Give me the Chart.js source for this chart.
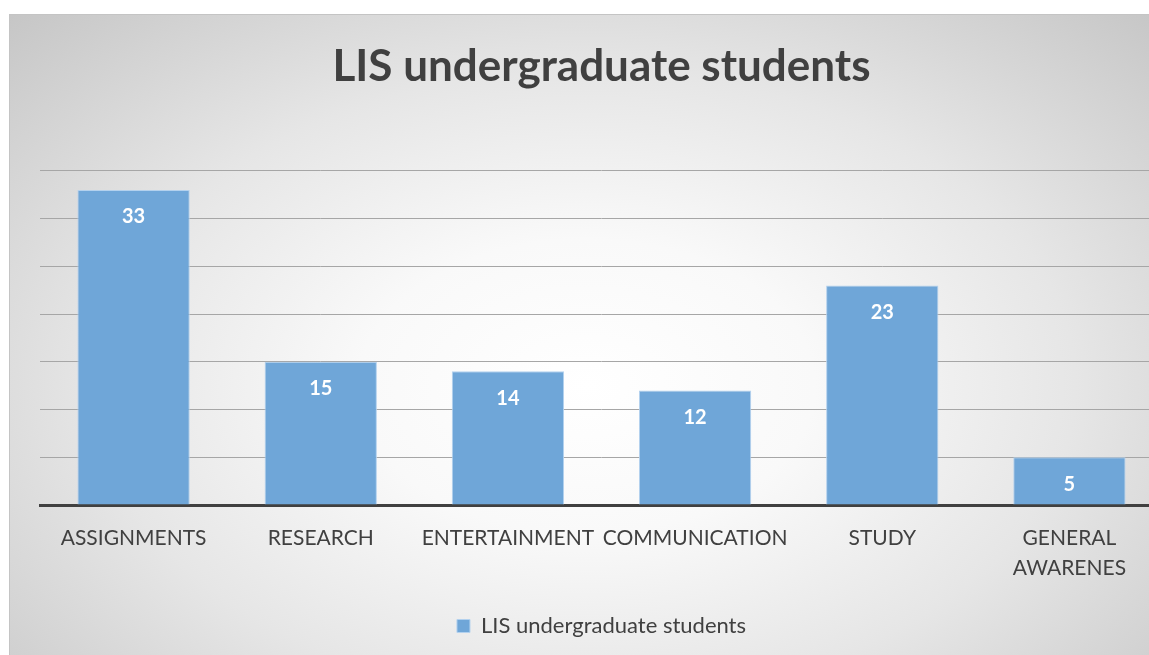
<!DOCTYPE html>
<html>
<head>
<meta charset="utf-8">
<script src="https://cdn.jsdelivr.net/npm/chart.js@4"></script>
<style>
  html, body { margin: 0; padding: 0; background: #fff; overflow: hidden; }
  #panel {
    position: absolute; left: 9px; top: 14px; width: 1154px; height: 641px;
    border-top: 1px solid #c4c4c4; border-left: 1px solid #c4c4c4; box-sizing: border-box;
    background: radial-gradient(ellipse at 50% 58%, #ffffff 0%, #f9f9f9 28%, #e6e6e6 60%, #c6c6c6 100%);
  }
</style>
</head>
<body>
<div id="panel"><canvas id="usageChart" width="1153" height="640"></canvas></div>
<script>
const categories = ["ASSIGNMENTS", "RESEARCH", "ENTERTAINMENT", "COMMUNICATION", "STUDY", ["GENERAL", "AWARENES"]];
const studentCounts = [33, 15, 14, 12, 23, 5];
const seriesName = "LIS undergraduate students";

const FONT = "Lato, 'Open Sans', sans-serif";

// writes each bar's value just inside its top edge
const valueLabels = {
    id: "valueLabels",
    afterDatasetsDraw(chart) {
        const { ctx } = chart;
        const meta = chart.getDatasetMeta(0);
        ctx.save();
        ctx.font = "bold 20px " + FONT;
        ctx.fillStyle = "#ffffff";
        ctx.textAlign = "center";
        ctx.textBaseline = "middle";
        meta.data.forEach((bar, i) => {
            ctx.fillText(String(studentCounts[i]), bar.x, bar.y + 27);
        });
        ctx.restore();
    },
};

document.addEventListener("DOMContentLoaded", () => {
    const ctx = document.getElementById("usageChart");

    new Chart(ctx, {
        type: "bar",
        data: {
            labels: categories,
            datasets: [
                {
                    label: seriesName,
                    data: studentCounts,
                    backgroundColor: "#6fa6d8",
                    borderColor: "#b3d1ee",
                    borderWidth: 1,
                    barPercentage: 0.6,
                    categoryPercentage: 1,
                },
            ],
        },
        options: {
            responsive: false,
            animation: false,
            layout: { padding: { left: 30, right: 0, top: 0, bottom: 8 } },
            scales: {
                x: {
                    grid: { display: false },
                    border: { color: "#404040", width: 3 },
                    ticks: {
                        color: "#404040",
                        font: { family: FONT, size: 21, lineHeight: 1.4 },
                        padding: 11,
                        maxRotation: 0,
                        autoSkip: false,
                    },
                    afterFit(scale) { scale.height = 99; },
                },
                y: {
                    min: 0,
                    max: 35,
                    ticks: { stepSize: 5, display: false },
                    grid: { color: "#a6a6a6", lineWidth: 1, drawTicks: false },
                    border: { display: false },
                    afterFit(scale) { scale.width = 0; },
                },
            },
            plugins: {
                title: {
                    display: true,
                    text: seriesName,
                    color: "#404040",
                    font: { family: FONT, size: 44, weight: "bold" },
                    padding: { top: 25, bottom: 78 },
                },
                legend: {
                    position: "bottom",
                    labels: {
                        color: "#404040",
                        font: { family: FONT, size: 22 },
                        boxWidth: 13,
                        boxHeight: 13,
                        padding: 11,
                    },
                },
                tooltip: { enabled: false },
            },
        },
        plugins: [valueLabels],
    });
});
</script>
</body>
</html>
